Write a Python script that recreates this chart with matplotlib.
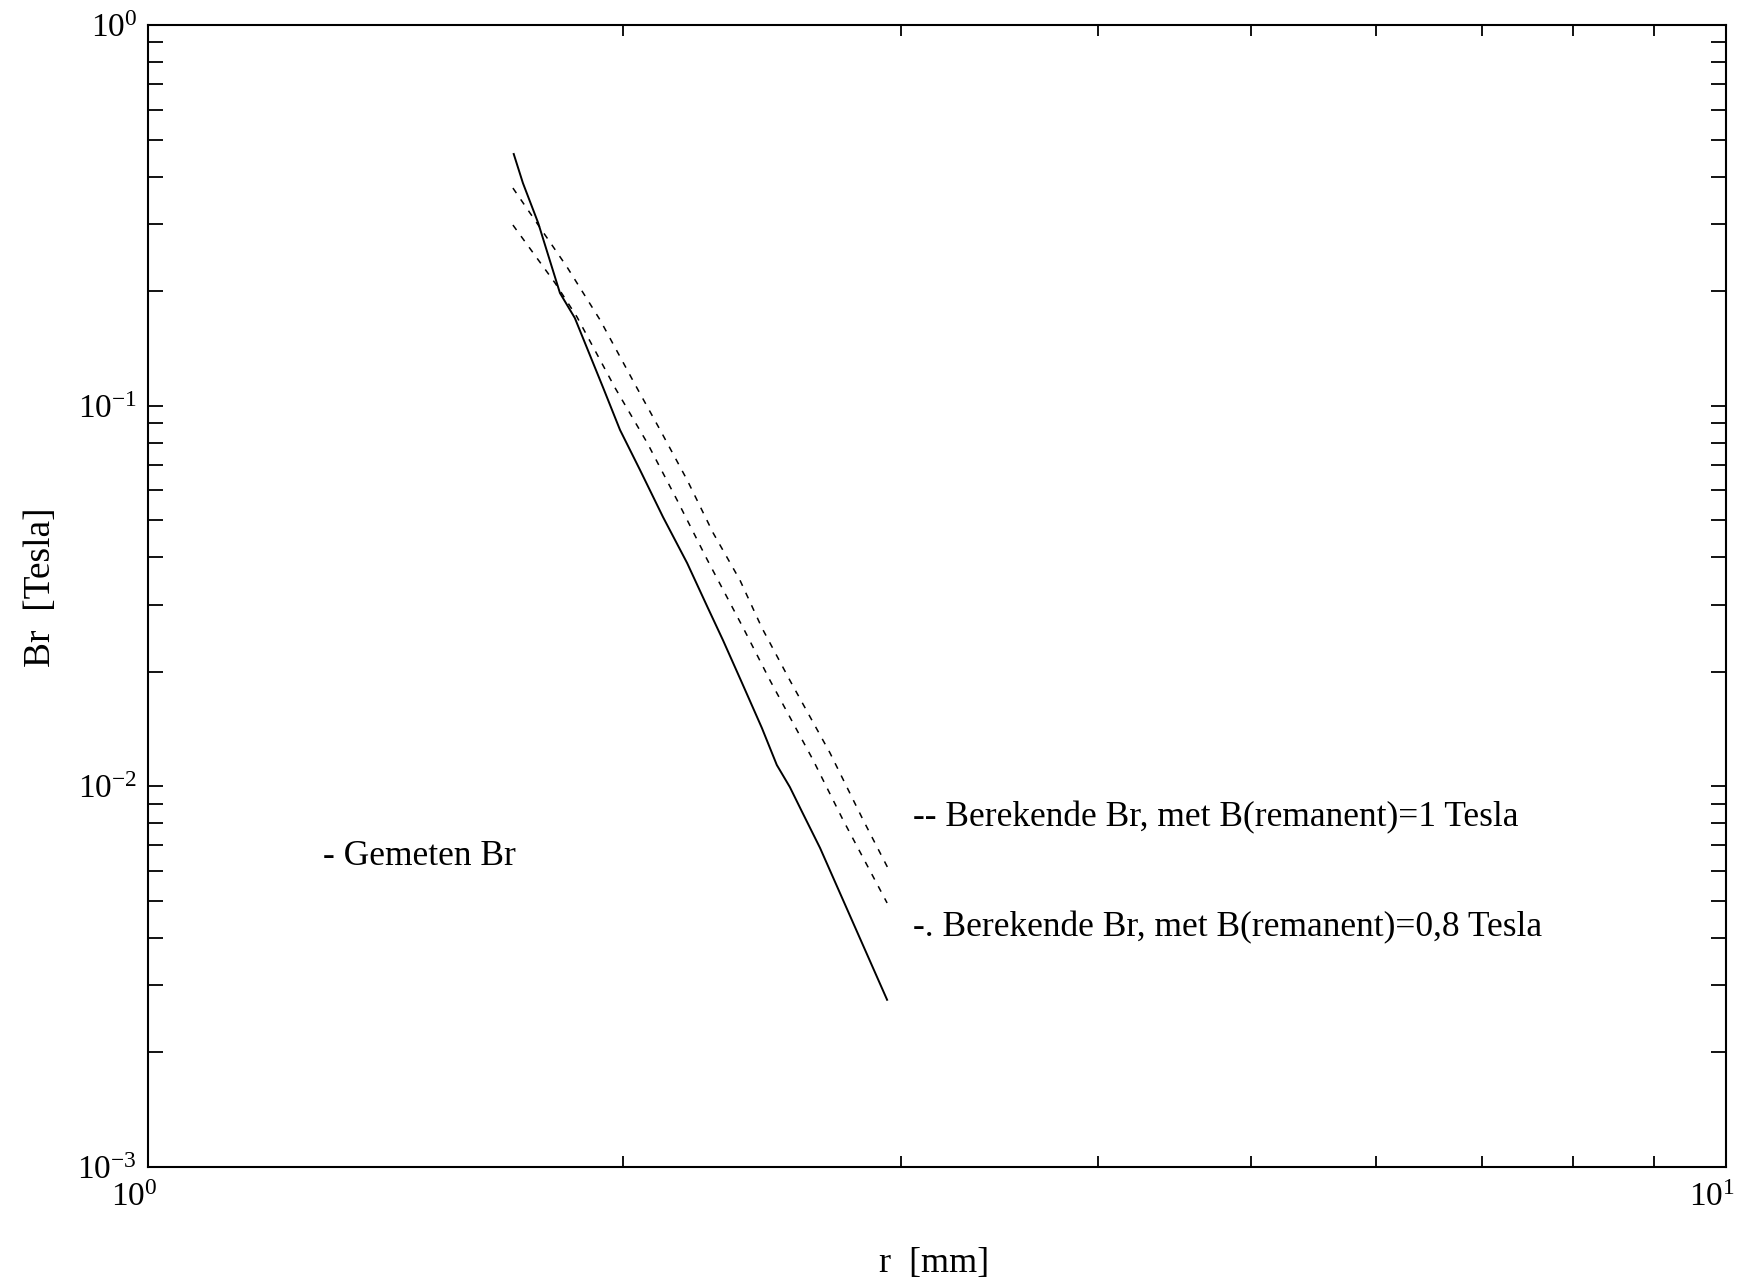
import matplotlib
matplotlib.use("Agg")
import matplotlib.pyplot as plt
import matplotlib.transforms as mtransforms
from matplotlib.ticker import FixedLocator, FixedFormatter, LogLocator, NullFormatter

# measured field Br (solid)
r_meas = [1.705, 1.728, 1.767, 1.824, 1.864, 1.943, 1.991, 2.050, 2.120, 2.196,
          2.262, 2.314, 2.379, 2.449, 2.503, 2.551, 2.597, 2.666, 2.940]
br_meas = [0.4584, 0.3846, 0.3020, 0.1977, 0.1700, 0.1113, 0.0864, 0.0678, 0.0510, 0.0386,
           0.0296, 0.0242, 0.0187, 0.01424, 0.01138, 0.00996, 0.00857, 0.00689, 0.00275]

# calculated Br, B(remanent) = 1 T
r_calc1 = [1.703, 1.843, 1.934, 2.041, 2.111, 2.196, 2.281, 2.372, 2.449, 2.551,
           2.705, 2.839, 2.943]
br_calc1 = [0.3731, 0.2313, 0.1680, 0.1113, 0.0864, 0.0638, 0.0463, 0.0348, 0.0261, 0.0190,
            0.01224, 0.00816, 0.00611]

# calculated Br, B(remanent) = 0.8 T
r_calc08 = [1.703, 1.811, 1.870, 1.977, 2.072, 2.164, 2.262, 2.383, 2.478, 2.639,
            2.757, 2.940]
br_calc08 = [0.2983, 0.2101, 0.1710, 0.1113, 0.0798, 0.0565, 0.0393, 0.0261, 0.0190, 0.01173,
             0.00816, 0.00494]

x_ticks = [1, 10]
x_tick_labels = ["$10^{0}$", "$10^{1}$"]
y_ticks = [1e-3, 1e-2, 1e-1, 1]
y_tick_labels = ["$10^{-3}$", "$10^{-2}$", "$10^{-1}$", "$10^{0}$"]

plt.rcParams["font.family"] = ["Liberation Serif", "DejaVu Serif"]
plt.rcParams["mathtext.fontset"] = "custom"
plt.rcParams["mathtext.rm"] = "Liberation Serif"
plt.rcParams["mathtext.default"] = "regular"

fig = plt.figure(figsize=(17.38, 12.85), dpi=100)
ax = fig.add_axes([0.0852, 0.0918, 0.9079, 0.8887])

ax.plot(r_meas, br_meas, color="black", lw=1.4)
ax.plot(r_calc1, br_calc1, color="black", lw=1.1, linestyle=(0, (4, 5)))
ax.plot(r_calc08, br_calc08, color="black", lw=1.1, linestyle=(0, (4, 5)))

ax.set_xscale("log")
ax.set_yscale("log")
ax.set_xlim(1, 10)
ax.set_ylim(1e-3, 1)

ax.xaxis.set_major_locator(FixedLocator(x_ticks))
ax.xaxis.set_major_formatter(FixedFormatter(x_tick_labels))
ax.yaxis.set_major_locator(FixedLocator(y_ticks))
ax.yaxis.set_major_formatter(FixedFormatter(y_tick_labels))
ax.xaxis.set_minor_locator(LogLocator(base=10, subs=range(2, 10)))
ax.yaxis.set_minor_locator(LogLocator(base=10, subs=range(2, 10)))
ax.xaxis.set_minor_formatter(NullFormatter())
ax.yaxis.set_minor_formatter(NullFormatter())

ax.tick_params(which="both", direction="in", top=True, right=True,
               labelsize=24, width=1.3, color="black")
ax.tick_params(axis="y", which="both", length=11, pad=8)
ax.tick_params(axis="x", which="both", length=8, pad=11)
for s in ax.spines.values():
    s.set_linewidth(1.5)

# x tick labels sit just left of their ticks, as in the scan
shift = mtransforms.ScaledTranslation(0.09, 0, fig.dpi_scale_trans)
for lbl in ax.get_xticklabels():
    lbl.set_ha("right")
    lbl.set_transform(lbl.get_transform() + shift)

ax.set_ylabel("Br  [Tesla]", fontsize=27, va="center", ha="center")
ax.yaxis.set_label_coords(-0.068, 0.508)
ax.set_xlabel("r  [mm]", fontsize=26, va="center", ha="center")
ax.xaxis.set_label_coords(0.498, -0.0849)

ax.text(0.111, 0.2715, "- Gemeten Br", transform=ax.transAxes,
        fontsize=25.5, va="center", ha="left")
ax.text(0.485, 0.3056, "-- Berekende Br, met B(remanent)=1 Tesla",
        transform=ax.transAxes, fontsize=25.5, va="center", ha="left")
ax.text(0.485, 0.210, "-. Berekende Br, met B(remanent)=0,8 Tesla",
        transform=ax.transAxes, fontsize=25.5, va="center", ha="left")

fig.savefig("out.png", dpi=100)
